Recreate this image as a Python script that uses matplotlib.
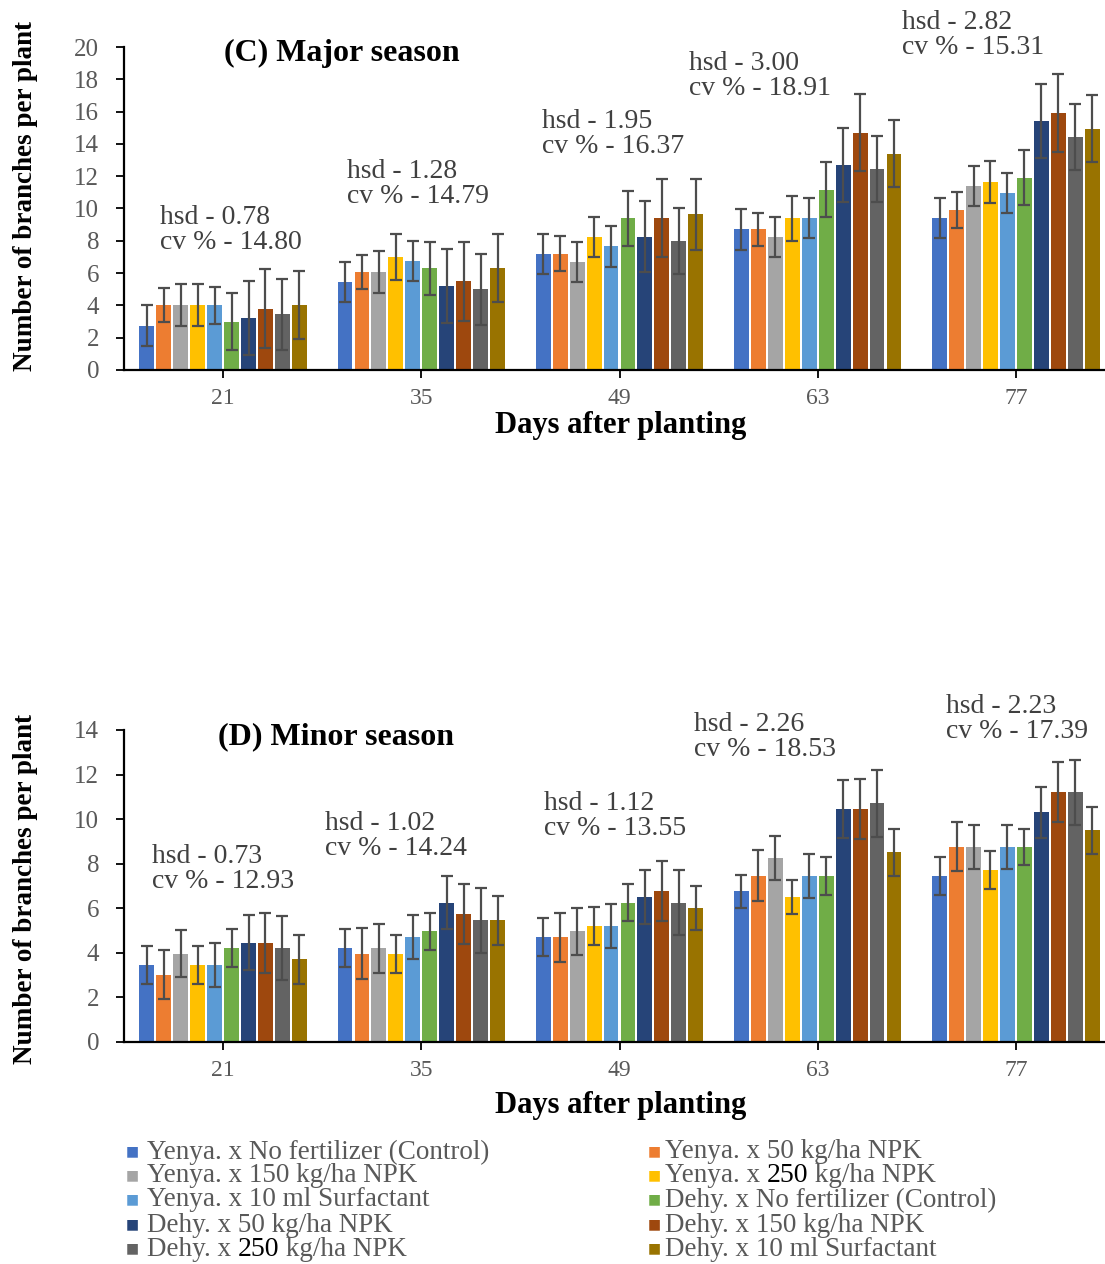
import numpy as np
import matplotlib.pyplot as plt

plt.rcParams['font.family'] = ['Liberation Serif', 'DejaVu Serif']

days = ['21', '35', '49', '63', '77']
treatments = ['Yenya. x No fertilizer (Control)', 'Yenya. x 50 kg/ha NPK',
              'Yenya. x 150 kg/ha NPK', 'Yenya. x 250 kg/ha NPK',
              'Yenya. x 10 ml Surfactant', 'Dehy. x No fertilizer (Control)',
              'Dehy. x 50 kg/ha NPK', 'Dehy. x 150 kg/ha NPK',
              'Dehy. x 250 kg/ha NPK', 'Dehy. x 10 ml Surfactant']
colors = ['#4472C4', '#ED7D31', '#A5A5A5', '#FFC000', '#5B9BD5',
          '#70AD47', '#264478', '#9E480E', '#636363', '#997300']

# (C) major season: rows = days, cols = treatments
major_mean = [
    [2.75, 4.0, 4.0, 4.0, 4.0, 3.0, 3.2, 3.8, 3.45, 4.0],
    [5.45, 6.05, 6.05, 7.0, 6.75, 6.3, 5.2, 5.5, 5.0, 6.3],
    [7.2, 7.2, 6.7, 8.25, 7.65, 9.4, 8.25, 9.4, 8.0, 9.65],
    [8.7, 8.7, 8.25, 9.4, 9.4, 11.15, 12.7, 14.7, 12.45, 13.4],
    [9.4, 9.9, 11.4, 11.65, 10.95, 11.9, 15.4, 15.9, 14.45, 14.95],
]
major_err = [
    [1.25, 1.05, 1.3, 1.3, 1.15, 1.75, 2.3, 2.45, 2.2, 2.1],
    [1.25, 1.05, 1.3, 1.4, 1.25, 1.65, 2.3, 2.45, 2.2, 2.1],
    [1.25, 1.1, 1.25, 1.25, 1.25, 1.7, 2.2, 2.4, 2.05, 2.2],
    [1.25, 1.0, 1.25, 1.4, 1.25, 1.7, 2.3, 2.4, 2.05, 2.05],
    [1.25, 1.1, 1.25, 1.3, 1.25, 1.7, 2.3, 2.4, 2.05, 2.05],
]
major_stats = [('0.78', '14.80'), ('1.28', '14.79'), ('1.95', '16.37'),
               ('3.00', '18.91'), ('2.82', '15.31')]

# (D) minor season
minor_mean = [
    [3.45, 3.0, 3.95, 3.45, 3.45, 4.2, 4.45, 4.45, 4.2, 3.7],
    [4.2, 3.95, 4.2, 3.95, 4.7, 4.95, 6.25, 5.75, 5.45, 5.45],
    [4.7, 4.7, 4.95, 5.2, 5.2, 6.25, 6.5, 6.75, 6.25, 6.0],
    [6.75, 7.45, 8.25, 6.5, 7.45, 7.45, 10.45, 10.45, 10.7, 8.5],
    [7.45, 8.75, 8.75, 7.7, 8.75, 8.75, 10.3, 11.2, 11.2, 9.5],
]
minor_err = [
    [0.85, 1.1, 1.05, 0.85, 1.0, 0.85, 1.25, 1.35, 1.45, 1.1],
    [0.85, 1.15, 1.1, 0.85, 1.0, 0.85, 1.2, 1.35, 1.45, 1.1],
    [0.85, 1.1, 1.05, 0.85, 1.0, 0.85, 1.2, 1.35, 1.45, 1.0],
    [0.75, 1.15, 1.0, 0.75, 1.0, 0.85, 1.3, 1.35, 1.5, 1.05],
    [0.85, 1.1, 1.0, 0.85, 1.0, 0.8, 1.15, 1.35, 1.45, 1.05],
]
minor_stats = [('0.73', '12.93'), ('1.02', '14.24'), ('1.12', '13.55'),
               ('2.26', '18.53'), ('2.23', '17.39')]

W, H = 1105, 1264
fig = plt.figure(figsize=(W / 100, H / 100), dpi=100)

tick_grey = '#595959'
text_grey = '#404040'


def px(x, y):
    # pixel position (from top-left) -> figure fraction
    return x / W, 1 - y / H


def draw(ax, means, errs, stats, ymax, title, title_xy, stat_xy,
         xlabel_y, ylabel_y):
    means = np.array(means)
    errs = np.array(errs)
    x = np.arange(len(days))
    n = len(treatments)
    bw = 0.0855
    for j in range(n):
        pos = x + (j - (n - 1) / 2) * bw
        ax.bar(pos, means[:, j], width=bw * 0.88, color=colors[j],
               label=treatments[j], zorder=2)
        ax.errorbar(pos, means[:, j], yerr=errs[:, j], fmt='none',
                    ecolor='#4d4d4d', elinewidth=1.6, capsize=4.5,
                    capthick=1.6, zorder=3)
    ax.set_xlim(-0.5, 4.5)
    ax.set_ylim(0, ymax)
    ax.set_yticks(np.arange(0, ymax + 1, 2))
    ax.set_xticks(x)
    ax.set_xticklabels(days)
    ax.tick_params(axis='both', colors='black', labelcolor=tick_grey,
                   width=1.3, length=6)
    ax.tick_params(axis='x', pad=7, labelsize=17)
    ax.tick_params(axis='y', pad=12, labelsize=18)
    for s in ['top', 'right']:
        ax.spines[s].set_visible(False)
    for s in ['left', 'bottom']:
        ax.spines[s].set_linewidth(1.6)
    ax.set_xlabel('Days after planting', fontsize=22, fontweight='bold',
                  va='center')
    ax.xaxis.set_label_coords(*px(621, xlabel_y), transform=fig.transFigure)
    ax.set_ylabel('Number of branches per plant', fontsize=19.5,
                  fontweight='bold', va='center')
    ax.yaxis.set_label_coords(*px(26, ylabel_y), transform=fig.transFigure)
    fig.text(*px(*title_xy), title, fontsize=23, fontweight='bold',
             va='center', ha='left')
    for (hsd, cv), (tx, ty) in zip(stats, stat_xy):
        fig.text(*px(tx, ty), 'hsd - %s\ncv %% - %s' % (hsd, cv),
                 fontsize=20, color=text_grey, va='center', ha='left',
                 linespacing=0.98)


ax1 = fig.add_axes([124 / W, 1 - 370 / H, 991 / W, 323 / H])
draw(ax1, major_mean, major_err, major_stats, 20, '(C) Major season',
     (224, 53),
     [(160, 230), (347, 184), (542, 134), (689, 76), (902, 35)], 425, 196)

ax2 = fig.add_axes([124 / W, 1 - 1041.7 / H, 991 / W, 311.7 / H])
draw(ax2, minor_mean, minor_err, minor_stats, 14, '(D) Minor season',
     (218, 737),
     [(152, 869), (325, 836), (544, 816), (694, 737), (946, 719)], 1106, 889)

# legend, laid out by hand as in the original (two columns, five rows)
renderer = fig.canvas.get_renderer()
rows = [1152, 1176, 1200, 1225, 1249]
cols = [(126, 147), (648, 665)]
for k, name in enumerate(treatments):
    col, row = k % 2, k // 2
    sx, tx = cols[col]
    fig.text(*px(sx, rows[row] - 1), '\u25a0', fontsize=10, color=colors[k],
             va='center', ha='left', family=['DejaVu Sans'])
    parts = name.split('250')
    xcur = tx
    for p, piece in enumerate(parts):
        if p > 0:
            t = fig.text(*px(xcur, rows[row]), '250', fontsize=20,
                         color='black', va='center', ha='left')
            xcur += t.get_window_extent(renderer).width
        if piece:
            t = fig.text(*px(xcur, rows[row]), piece, fontsize=19.5,
                         color=tick_grey, va='center', ha='left')
            xcur += t.get_window_extent(renderer).width

fig.savefig('out.png', dpi=100)
